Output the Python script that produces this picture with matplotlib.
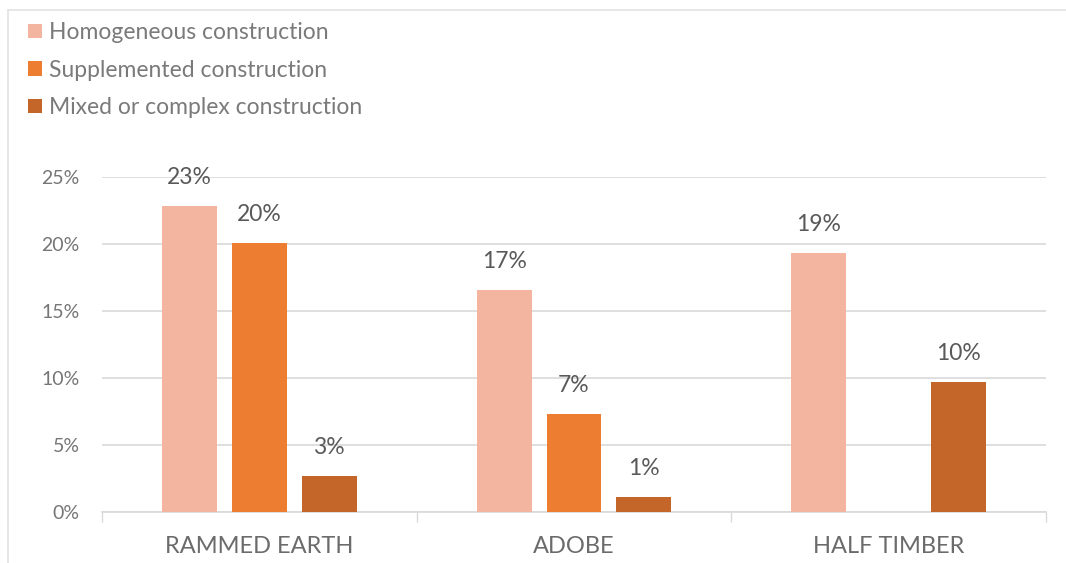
import matplotlib.pyplot as plt
import numpy as np
from matplotlib.patches import Patch
from matplotlib.lines import Line2D

# data
categories = ['RAMMED EARTH', 'ADOBE', 'HALF TIMBER']
series = ['Homogeneous construction', 'Supplemented construction', 'Mixed or complex construction']
homogeneous = [22.8, 16.6, 19.3]
supplemented = [20.1, 7.3, np.nan]
mixed = [2.7, 1.1, 9.7]
value_labels = [['23%', '17%', '19%'], ['20%', '7%', ''], ['3%', '1%', '10%']]
yticks = [0, 5, 10, 15, 20, 25]

colors = ['#F3B59F', '#ED7D31', '#C4652A']
grid_c = '#d9d9d9'

plt.rcParams['font.family'] = ['Lato', 'DejaVu Sans']

fig = plt.figure(figsize=(10.66, 5.63), dpi=100)
ax = fig.add_axes([102/1066, 51/563, (1046-102)/1066, (512-177)/563])

x = np.arange(len(categories))
w = 55/315
off = 70/315
for i, vals in enumerate([homogeneous, supplemented, mixed]):
    pos = x + (i-1)*off
    ax.bar(pos, vals, width=w, color=colors[i], zorder=3)
    for p, v, lab in zip(pos, vals, value_labels[i]):
        if np.isnan(v) or lab == '':
            continue
        ax.annotate(lab, (p, v), xytext=(0, 13), textcoords='offset points',
                    ha='center', va='bottom', fontsize=16.5, color='#595959')

ax.set_xlim(-0.5, 2.5)
ax.set_ylim(0, 25)
ax.set_yticks(yticks)
ax.set_yticklabels([f'{t}%' for t in yticks])
ax.set_xticks(x)
ax.set_xticklabels(categories)
ax.set_xticks([-0.5, 0.5, 1.5, 2.5], minor=True)
ax.tick_params(axis='x', which='major', length=0, pad=17, labelsize=17, labelcolor='#6b6b6b')
ax.tick_params(axis='x', which='minor', length=7, width=1, color=grid_c)
ax.tick_params(axis='y', length=0, pad=16, labelsize=14, labelcolor='#767676')
ax.yaxis.grid(True, color=grid_c, lw=1.2, zorder=0)
for s in ['top', 'right', 'left']:
    ax.spines[s].set_visible(False)
ax.spines['bottom'].set_color(grid_c)
ax.spines['bottom'].set_linewidth(1.2)

handles = [Patch(facecolor=c, edgecolor='none') for c in colors]
fig.legend(handles, series, loc='upper left', bbox_to_anchor=(19/1066, 1-13/563),
           frameon=False, fontsize=16.5, handlelength=0.6, handleheight=0.6,
           handletextpad=0.3, labelspacing=0.72, labelcolor='#7a7a7a', borderaxespad=0)

# light frame around the chart area
fig.add_artist(Line2D([8/1066, 1.0], [1-10/563, 1-10/563], color='#e3e3e3', lw=1.2))
fig.add_artist(Line2D([8/1066, 8/1066], [0, 1-10/563], color='#e3e3e3', lw=1.2))

fig.savefig('out.png', dpi=100)
